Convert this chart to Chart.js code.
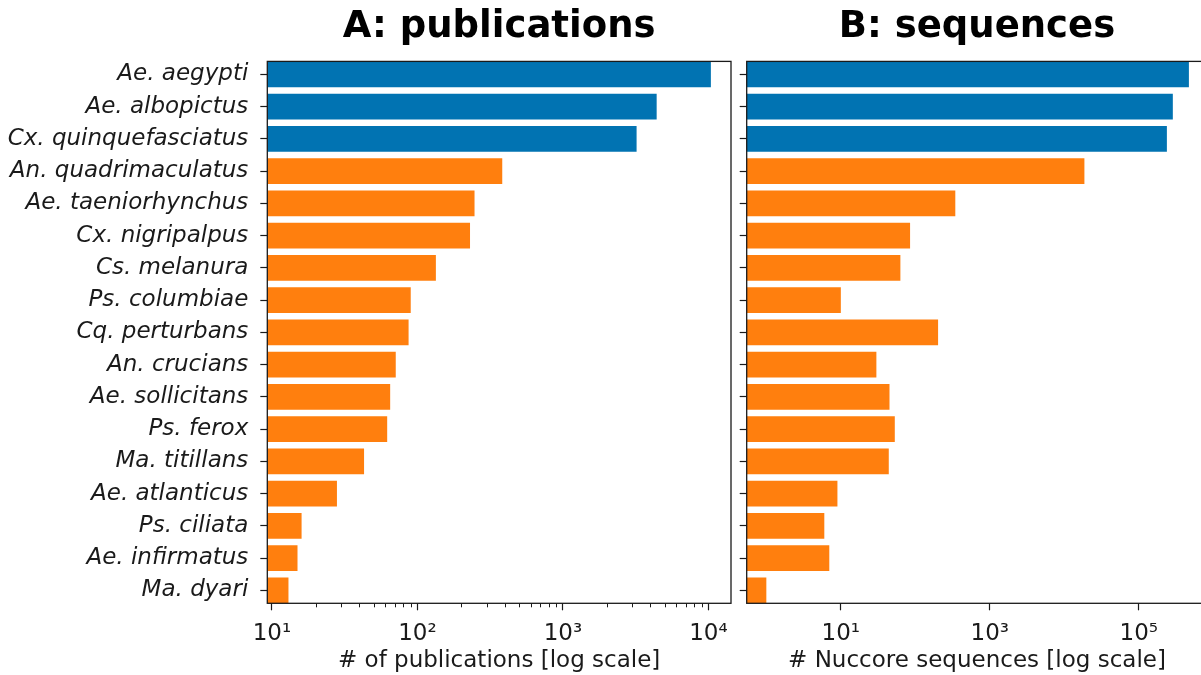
<!DOCTYPE html>
<html><head><meta charset="utf-8">
<script src="https://cdn.jsdelivr.net/npm/chart.js@4/dist/chart.umd.min.js"></script>
<style>
html,body{margin:0;padding:0;width:1201px;height:675px;overflow:hidden;background:#fff;}
#wa{position:absolute;left:0;top:0;width:745px;height:675px;}
#wb{position:absolute;left:735px;top:0;width:480px;height:675px;}
</style></head><body>
<div id="wa"><canvas id="ca"></canvas></div>
<div id="wb"><canvas id="cb"></canvas></div>
<script>
const species = ['Ae. aegypti','Ae. albopictus','Cx. quinquefasciatus','An. quadrimaculatus','Ae. taeniorhynchus','Cx. nigripalpus','Cs. melanura','Ps. columbiae','Cq. perturbans','An. crucians','Ae. sollicitans','Ps. ferox','Ma. titillans','Ae. atlanticus','Ps. ciliata','Ae. infirmatus','Ma. dyari'];
const publications = [10400, 4410, 3210, 383, 247, 230, 134, 90, 87, 71, 65, 62, 43, 28, 16, 15, 13];
const sequences = [470000, 286000, 238000, 18600, 344, 85, 63, 10, 202, 30, 45, 53, 44, 9, 6, 7, 1];
const highlighted = ['Ae. aegypti','Ae. albopictus','Cx. quinquefasciatus'];
const pubTicks = [10, 100, 1000, 10000];
const pubTickLabels = ['10¹','10²','10³','10⁴'];
const seqTicks = [10, 1000, 100000];
const seqTickLabels = ['10¹','10³','10⁵'];

const BLUE = '#0173b2', ORANGE = '#ff7f0e', INK = '#1a1a1a';
const FAMILY = "'DejaVu Sans', sans-serif";

const framePlugin = {
  id: 'frame',
  afterDatasetsDraw(chart) {
    const {ctx, chartArea: a} = chart;
    ctx.save();
    ctx.strokeStyle = INK; ctx.lineWidth = 1.3;
    ctx.strokeRect(a.left, a.top, a.right - a.left, a.bottom - a.top);
    ctx.restore();
  }
};
const minorPlugin = {
  id: 'minorTicks',
  afterDraw(chart, args, opts) {
    if (!opts.show) return;
    const s = chart.scales.x, ctx = chart.ctx;
    ctx.save(); ctx.strokeStyle = INK; ctx.lineWidth = 1;
    for (let d = 1; d <= 5; d++) {
      for (let m = 2; m <= 9; m++) {
        const v = m * Math.pow(10, d);
        if (v < s.min || v > s.max) continue;
        const px = Math.round(s.getPixelForValue(v)) + 0.5;
        ctx.beginPath(); ctx.moveTo(px, s.top); ctx.lineTo(px, s.top + 4); ctx.stroke();
      }
    }
    ctx.restore();
  }
};

function makeChart(id, values, o) {
  return new Chart(document.getElementById(id), {
    type: 'bar',
    data: { datasets: [{
      data: values.map((v, i) => ({x: v, y: i})),
      backgroundColor: c => highlighted.includes(species[c.dataIndex]) ? BLUE : ORANGE,
      barPercentage: 0.8, categoryPercentage: 1.0, borderWidth: 0
    }]},
    options: {
      indexAxis: 'y', responsive: true, maintainAspectRatio: false, animation: false,
      layout: { padding: {left: 0, right: o.padRight, top: 0, bottom: 0} },
      plugins: {
        legend: {display: false}, tooltip: {enabled: false},
        minorTicks: {show: o.minor},
        title: { display: true, fullSize: false, text: o.title, color: '#000',
          font: {family: FAMILY, size: 37, weight: 'bold'}, padding: {top: 5, bottom: 12} }
      },
      scales: {
        x: {
          type: 'logarithmic', position: 'bottom', min: o.min, max: o.max,
          afterBuildTicks: s => { s.ticks = o.ticks.map(v => ({value: v})); },
          afterFit: s => { s.height = 71.7; },
          ticks: { autoSkip: false, maxRotation: 0, padding: 10, color: INK,
            font: {family: FAMILY, size: 23},
            callback: v => { const k = o.ticks.indexOf(v); return k >= 0 ? o.tickLabels[k] : ''; } },
          grid: { drawOnChartArea: false, drawTicks: true, tickLength: 7, tickColor: INK, tickWidth: 1.2 },
          border: { display: false },
          title: { display: true, text: o.xTitle, color: INK, font: {family: FAMILY, size: 23}, padding: {top: 0, bottom: 0} }
        },
        y: {
          type: 'linear', position: 'left', reverse: true, min: -0.4, max: 16.4, offset: false,
          afterBuildTicks: s => { s.ticks = species.map((_, i) => ({value: i})); },
          afterFit: s => { s.width = o.yWidth; },
          ticks: { autoSkip: false, padding: 12, color: INK,
            font: {family: FAMILY, size: 23, style: 'italic'},
            callback: v => o.showLabels ? species[v] : '' },
          grid: { offset: false, drawOnChartArea: false, drawTicks: true, tickLength: 7, tickColor: INK, tickWidth: 1.2 },
          border: { display: false }
        }
      }
    },
    plugins: [framePlugin, minorPlugin]
  });
}

makeChart('ca', publications, {
  title: 'A: publications', xTitle: '# of publications [log scale]',
  min: 9.3, max: 14300, ticks: pubTicks, tickLabels: pubTickLabels,
  yWidth: 267.3, padRight: 14, showLabels: true, minor: true
});
makeChart('cb', sequences, {
  title: 'B: sequences', xTitle: '# Nuccore sequences [log scale]',
  min: 0.545, max: 830000, ticks: seqTicks, tickLabels: seqTickLabels,
  yWidth: 11.7, padRight: 7.7, showLabels: false, minor: false
});
</script>
</body></html>
